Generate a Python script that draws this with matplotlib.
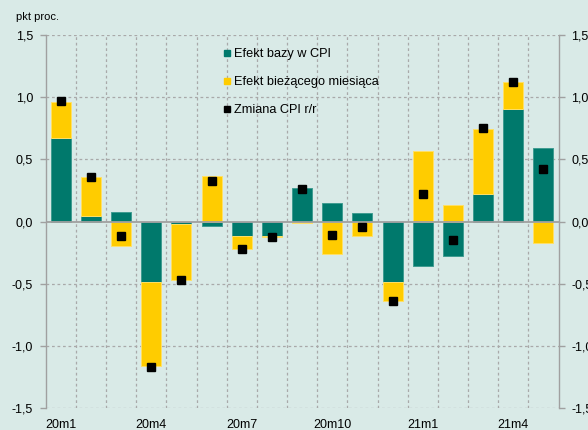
import matplotlib
matplotlib.use("Agg")
import matplotlib.pyplot as plt
import numpy as np
from matplotlib.lines import Line2D

plt.rcParams['font.family'] = ['Liberation Sans', 'DejaVu Sans']

# ---- data ----
months = ["20m1", "20m2", "20m3", "20m4", "20m5", "20m6", "20m7", "20m8", "20m9",
          "20m10", "20m11", "20m12", "21m1", "21m2", "21m3", "21m4", "21m5"]
base_effect = [0.675, 0.046, 0.075, -0.49, -0.02, -0.035, -0.113, -0.113, 0.268,
               0.148, 0.067, -0.487, -0.356, -0.28, 0.223, 0.906, 0.59]
month_effect = [0.29, 0.31, -0.195, -0.67, -0.45, 0.367, -0.107, -0.01, -0.01,
                -0.26, -0.113, -0.15, 0.57, 0.129, 0.522, 0.214, -0.169]
cpi_change = [0.97, 0.357, -0.117, -1.17, -0.47, 0.325, -0.22, -0.125, 0.265,
              -0.11, -0.045, -0.64, 0.22, -0.15, 0.75, 1.12, 0.42]
shown_labels = ["20m1", "20m4", "20m7", "20m10", "21m1", "21m4"]
ytick_vals = [-1.5, -1.0, -0.5, 0.0, 0.5, 1.0, 1.5]
ytick_labels = ["-1,5", "-1,0", "-0,5", "0,0", "0,5", "1,0", "1,5"]
legend_labels = ["Efekt bazy w CPI", "Efekt bieżącego miesiąca", "Zmiana CPI r/r"]

BG = "#d9eae7"
TEAL = "#00796c"
YELLOW = "#ffcc00"
GRID = "#a9a9a9"

fig = plt.figure(figsize=(5.88, 4.30), dpi=100, facecolor=BG)
ax = fig.add_axes([45.7 / 588, 1 - 408 / 430, (558.5 - 45.7) / 588, (408 - 35) / 430])
ax.set_facecolor(BG)

x = np.arange(len(months))
base = np.array(base_effect)
mon = np.array(month_effect)
bottom_mon = np.where(np.sign(base) == np.sign(mon), base, 0.0)

w = 0.66
ax.bar(x, base, width=w, color=TEAL, edgecolor="#3f9c91", linewidth=0.7, zorder=3)
ax.bar(x, mon, width=w, bottom=bottom_mon, color=YELLOW, edgecolor="#ffe066",
       linewidth=0.7, zorder=3)
ax.plot(x, cpi_change, linestyle="none", marker="s", markersize=5.4,
        color="black", zorder=5)

ax.set_xlim(-0.5, len(months) - 0.5)
ax.set_ylim(-1.5, 1.5)

# grid
for yv in ytick_vals:
    if yv == 0:
        continue
    ax.axhline(yv, color=GRID, linestyle=(0, (2.2, 2.2)), linewidth=0.9, zorder=1)
for k in range(len(months) - 1):
    ax.axvline(k + 0.5, color=GRID, linestyle=(0, (2.2, 2.2)), linewidth=0.9, zorder=1)
ax.axhline(0, color="#a0a0a0", linewidth=1.3, zorder=4)

for s in ["top", "bottom"]:
    ax.spines[s].set_visible(False)
for s in ["left", "right"]:
    ax.spines[s].set_color("#a0a0a0")
    ax.spines[s].set_linewidth(1.0)

ax.set_yticks(ytick_vals)
ax.set_yticklabels(ytick_labels)
ax.tick_params(axis="y", direction="out", length=4, width=1.0, color="#a0a0a0",
               labelsize=9, pad=5, left=True, right=True, labelright=True)

pos = [months.index(m) for m in shown_labels]
ax.set_xticks(pos)
ax.set_xticklabels(shown_labels)
ax.tick_params(axis="x", length=0, labelsize=9, pad=8)

fig.text(16 / 588, 1 - 17 / 430, "pkt proc.", fontsize=8, ha="left", va="center")

handles = [
    Line2D([], [], linestyle="none", marker="s", markersize=5, color=TEAL),
    Line2D([], [], linestyle="none", marker="s", markersize=5, color=YELLOW),
    Line2D([], [], linestyle="none", marker="s", markersize=5, color="black"),
]
leg = ax.legend(handles, legend_labels, loc="upper left",
                bbox_to_anchor=(223 / 588, 1 - 48.5 / 430), bbox_transform=fig.transFigure,
                frameon=False, fontsize=9.2, handlelength=0.6, handletextpad=0.25,
                labelspacing=1.25, borderpad=0, borderaxespad=0)
leg.set_zorder(6)

fig.savefig("out.png", dpi=100, facecolor=BG)
